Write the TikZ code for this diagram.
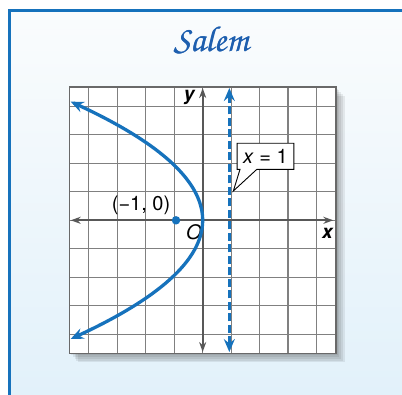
\documentclass[tikz,border=0pt]{standalone}
\usepackage[T1]{fontenc}
\usepackage{fontspec}
\setmainfont{TeX Gyre Heros}
\usetikzlibrary{arrows.meta}
\definecolor{curveblue}{RGB}{22,114,188}
\definecolor{titleblue}{RGB}{30,95,175}
\definecolor{axisgray}{RGB}{88,88,88}
\definecolor{gridgray}{RGB}{128,128,128}
\definecolor{bgtop}{RGB}{250,252,253}
\definecolor{bgbot}{RGB}{226,241,250}
\begin{document}
\begin{tikzpicture}[x=26.667pt,y=26.667pt,
  framestyle/.style={draw=curveblue,line width=3pt},
  gridstyle/.style={draw=gridgray,line width=1.1pt},
  borderstyle/.style={draw=axisgray!90,line width=1.3pt},
  axisline/.style={draw=axisgray,line width=2pt,{Stealth[length=10pt,width=7pt]}-{Stealth[length=10pt,width=7pt]}},
  curveline/.style={draw=curveblue,line width=3.3pt,line cap=round},
  dashline/.style={draw=curveblue,line width=3.6pt,dash pattern=on 8pt off 3.5pt},
  lbl/.style={inner sep=0pt,font=\fontsize{19}{22}\selectfont},
  axlbl/.style={inner sep=0pt,font=\fontsize{19}{22}\selectfont\bfseries\itshape},
  fdot/.style={circle,fill=curveblue,inner sep=0pt,minimum size=8.5pt}
]
\useasboundingbox (-7.6,-6.514) rectangle (7.474,8.261);
\fill[white] (-7.6,-6.514) rectangle (7.474,8.261);
\shade[top color=bgtop,bottom color=bgbot] (-7.226,-6.514) rectangle (7.474,7.849);
\draw[framestyle] (-7.226,-6.7) -- (-7.226,7.849) -- (7.7,7.849);
% title
\node[text=titleblue,inner sep=0pt] (title) at (0.31,6.76) {\usefont{T1}{pzc}{m}{it}\fontsize{36}{40}\selectfont Salem};
\node[text=titleblue,inner sep=0pt] at ([xshift=0.4pt]title.center) {\usefont{T1}{pzc}{m}{it}\fontsize{36}{40}\selectfont Salem};
% shadow of grid
\foreach \i in {1,...,5}
  \fill[black,opacity=0.07] (-5+\i*0.065,-5-\i*0.065) rectangle (5+\i*0.065,5-\i*0.065);
\fill[white] (-5,-5) rectangle (5,5);
\draw[gridstyle] (-5,-5) grid (5,5);
\draw[borderstyle] (-5,-5) rectangle (5,5);
% axes
\coordinate (xl) at (-4.95,0);
\coordinate (xr) at (4.9,0);
\coordinate (yb) at (0,-4.94);
\coordinate (yt) at (0,4.96);
\draw[axisline] (xl) -- (xr);
\draw[axisline] (yb) -- (yt);
\node[axlbl] (ylab) at (-0.51,4.62) {y};
\node[axlbl] (xlab) at (4.68,-0.48) {x};
\node[lbl,font=\fontsize{20}{22}\selectfont\itshape] (olab) at (-0.33,-0.44) {O};
% directrix
\coordinate (dt) at (1,4.96);
\coordinate (db) at (1,-4.94);
\draw[dashline,{Stealth[length=13pt,width=11pt,inset=4.5pt]}-{Stealth[length=13pt,width=11pt,inset=4.5pt]}] (db) -- (dt);
% parabola
\draw[curveline,{Stealth[length=13pt,width=11pt,inset=4.5pt]}-{Stealth[length=13pt,width=11pt,inset=4.5pt]}]
  plot[domain=-4.45:4.45,samples=90,smooth] ({-0.25*(\x)*(\x)},\x);
% focus
\node[fdot] (F) at (-1,0) {};
\node[lbl,font=\fontsize{20}{22}\selectfont] (Flab) at (-2.31,0.57) {(−1, 0)};
% callout
\coordinate (ctip) at (1.15,1.10);
\draw[fill=white,draw=black,line width=0.9pt,line join=miter]
  (1.29,2.89) -- (3.42,2.89) -- (3.42,1.91) -- (2.03,1.91) -- (ctip) -- (1.40,1.91) -- (1.29,1.91) -- cycle;
\node[lbl,font=\fontsize{20}{22}\selectfont] (clab) at (2.355,2.40) {\textit{x} = 1};
\end{tikzpicture}
\end{document}
